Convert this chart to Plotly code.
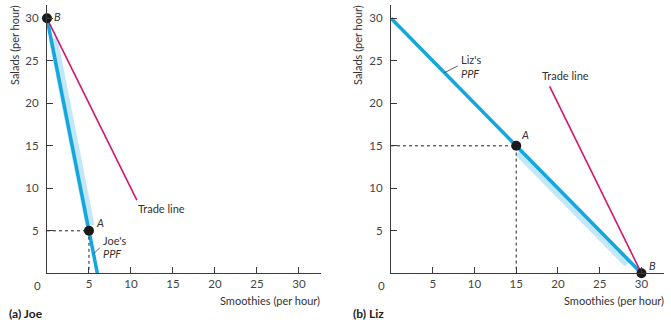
import plotly.graph_objects as go

# ---- data ----
tick_vals = [5, 10, 15, 20, 25, 30]
tick_text = ["5", "10", "15", "20", "25", "30"]

joe_ppf_x = [0, 6]
joe_ppf_y = [30, 0]
joe_trade_x = [0, 10.7]
joe_trade_y = [30, 8.6]
joe_points_x = [5, 0]
joe_points_y = [5, 30]
joe_points_lbl = ["A", "B"]

liz_ppf_x = [0, 30]
liz_ppf_y = [30, 0]
liz_trade_x = [30, 19]
liz_trade_y = [0, 22]
liz_points_x = [15, 30]
liz_points_y = [15, 0]
liz_points_lbl = ["A", "B"]

BLUE = "#14a6de"
LIGHT = "#c2e7f7"
MAG = "#d3166e"
AX = "#3a3a3a"
FONT = "Lato"

fig = go.Figure()

def panel(xa, ya, ppf_x, ppf_y, tr_x, tr_y, px, py, band_x, band_y):
    fig.add_trace(go.Scatter(x=band_x, y=band_y, mode="lines", xaxis=xa, yaxis=ya,
                             line=dict(color=LIGHT, width=9), hoverinfo="skip"))
    fig.add_trace(go.Scatter(x=ppf_x, y=ppf_y, mode="lines", xaxis=xa, yaxis=ya,
                             line=dict(color=BLUE, width=3.5), hoverinfo="skip"))
    fig.add_trace(go.Scatter(x=tr_x, y=tr_y, mode="lines", xaxis=xa, yaxis=ya,
                             line=dict(color=MAG, width=1.6), hoverinfo="skip"))
    fig.add_trace(go.Scatter(x=[0, px[0], px[0]], y=[py[0], py[0], 0], mode="lines",
                             xaxis=xa, yaxis=ya,
                             line=dict(color="#222", width=1, dash="dot"), hoverinfo="skip"))
    fig.add_trace(go.Scatter(x=px, y=py, mode="markers", xaxis=xa, yaxis=ya, cliponaxis=False,
                             marker=dict(color="#1a1a1a", size=10), hoverinfo="skip"))

jb_y = [27.6, 5.6]
jb_x = [0.25 + (30 - v) / 5 for v in jb_y]
panel("x", "y", joe_ppf_x, joe_ppf_y, joe_trade_x, joe_trade_y,
      joe_points_x, joe_points_y, jb_x, jb_y)

lb_x = [15.3, 28.4]
lb_y = [30 - v - 0.45 for v in lb_x]
panel("x2", "y2", liz_ppf_x, liz_ppf_y, liz_trade_x, liz_trade_y,
      liz_points_x, liz_points_y, lb_x, lb_y)

fig.add_trace(go.Scatter(x=[5.55, 6.3], y=[2.3, 3.0], mode="lines", xaxis="x", yaxis="y",
                         line=dict(color=AX, width=0.8), hoverinfo="skip"))
fig.add_trace(go.Scatter(x=[6.4, 8.0], y=[23.6, 24.4], mode="lines", xaxis="x2", yaxis="y2",
                         line=dict(color=AX, width=0.8), hoverinfo="skip"))

axis_common = dict(showline=True, linecolor=AX, linewidth=1, ticks="inside", ticklen=6,
                   tickcolor=AX, tickwidth=1, showgrid=False, zeroline=False,
                   tickvals=tick_vals, ticktext=tick_text,
                   tickfont=dict(family=FONT, size=11.5, color="#444"), fixedrange=True)

ydom = [0.1693, 0.9857]
fig.update_layout(
    width=671, height=329, margin=dict(l=0, r=0, t=0, b=0),
    paper_bgcolor="white", plot_bgcolor="white", showlegend=False,
    font=dict(family=FONT, color="#333"),
    xaxis=dict(domain=[0.070, 0.478], range=[0, 32.6], anchor="y", ticklabelstandoff=0, **axis_common),
    yaxis=dict(domain=ydom, range=[0, 31.6], anchor="x", ticklabelstandoff=5, **axis_common),
    xaxis2=dict(domain=[0.5827, 0.9896], range=[0, 32.7], anchor="y2", ticklabelstandoff=0, **axis_common),
    yaxis2=dict(domain=ydom, range=[0, 31.6], anchor="x2", ticklabelstandoff=5, **axis_common),
)

ann = []
def txt(x, y, t, xref, yref, size=11, xanchor="left", yanchor="middle", angle=0, color="#333"):
    ann.append(dict(x=x, y=y, xref=xref, yref=yref, text=t, showarrow=False,
                    xanchor=xanchor, yanchor=yanchor, textangle=angle,
                    font=dict(family=FONT, size=size, color=color)))

txt(joe_points_x[1] + 0.6, joe_points_y[1] + 0.2, "<i>" + joe_points_lbl[1] + "</i>", "x", "y")
txt(joe_points_x[0] + 0.6, joe_points_y[0] + 1.0, "<i>" + joe_points_lbl[0] + "</i>", "x", "y")
txt(10.6, 7.6, "Trade line", "x", "y")
txt(6.4, 3.9, "Joe's", "x", "y")
txt(6.4, 2.3, "<i>PPF</i>", "x", "y")
txt(liz_points_x[1] + 0.7, liz_points_y[1] + 0.9, "<i>" + liz_points_lbl[1] + "</i>", "x2", "y2")
txt(liz_points_x[0] + 0.3, liz_points_y[0] + 1.3, "<i>" + liz_points_lbl[0] + "</i>", "x2", "y2")
txt(17.9, 23.3, "Trade line", "x2", "y2")
txt(8.1, 25.1, "Liz's", "x2", "y2")
txt(8.1, 23.5, "<i>PPF</i>", "x2", "y2")

def ptxt(xp, yp, t, size=11, xanchor="left", yanchor="middle", angle=0, color="#333"):
    ann.append(dict(x=xp / 671, y=1 - yp / 329, xref="paper", yref="paper", text=t,
                    showarrow=False, xanchor=xanchor, yanchor=yanchor, textangle=angle,
                    font=dict(family=FONT, size=size, color=color)))

ptxt(37, 285, "0", size=11.5, xanchor="center", color="#444")
ptxt(381, 285, "0", size=11.5, xanchor="center", color="#444")
ptxt(14, 3, "Salads (per hour)", angle=-90, xanchor="center", yanchor="top")
ptxt(357, 3, "Salads (per hour)", angle=-90, xanchor="center", yanchor="top")
ptxt(322, 300, "Smoothies (per hour)", xanchor="right")
ptxt(666, 300, "Smoothies (per hour)", xanchor="right")
ptxt(7, 313, "<b>(a) Joe</b>", size=12, color="#222")
ptxt(351, 313, "<b>(b) Liz</b>", size=12, color="#222")

fig.update_layout(annotations=ann)
fig.write_html("out.html")
